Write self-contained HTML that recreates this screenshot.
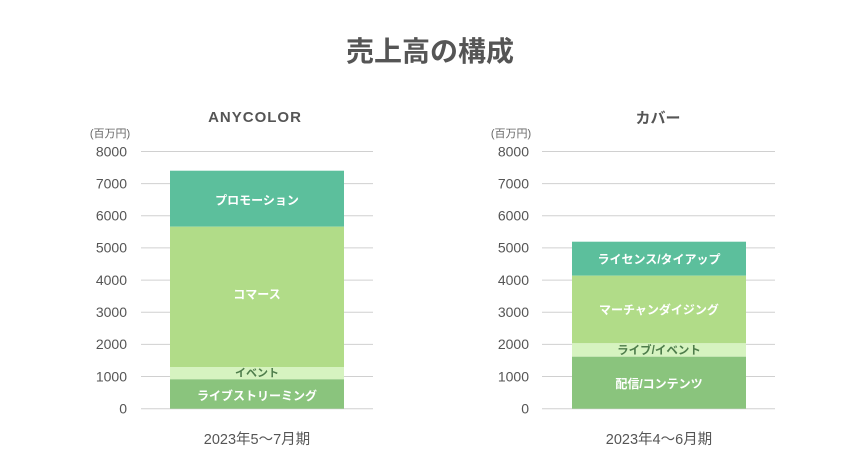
<!DOCTYPE html>
<html><head><meta charset="utf-8"><style>
html,body{margin:0;padding:0;background:#fff;}
svg{display:block;}
text{font-family:"Liberation Sans","Noto Sans CJK JP",sans-serif;}
</style></head><body>
<svg width="860" height="473" viewBox="0 0 860 473" xmlns="http://www.w3.org/2000/svg">
<rect width="860" height="473" fill="#fff"/>
<text x="430" y="61" text-anchor="middle" font-size="28" font-weight="bold" fill="#555">売上高の構成</text>

<!-- Left chart -->
<text x="255" y="122" text-anchor="middle" font-size="15" font-weight="bold" fill="#555" letter-spacing="1">ANYCOLOR</text>
<text x="110" y="137" text-anchor="middle" font-size="11" fill="#666">(百万円)</text>
<g stroke="#d0d0d0" stroke-width="1">
<line x1="141" x2="373" y1="151.5" y2="151.5"/>
<line x1="141" x2="373" y1="183.6" y2="183.6"/>
<line x1="141" x2="373" y1="215.8" y2="215.8"/>
<line x1="141" x2="373" y1="247.9" y2="247.9"/>
<line x1="141" x2="373" y1="280.1" y2="280.1"/>
<line x1="141" x2="373" y1="312.2" y2="312.2"/>
<line x1="141" x2="373" y1="344.4" y2="344.4"/>
<line x1="141" x2="373" y1="376.5" y2="376.5"/>
<line x1="141" x2="373" y1="408.7" y2="408.7"/>
</g>
<g font-size="14" fill="#555" text-anchor="end">
<text x="127" y="156.5">8000</text>
<text x="127" y="188.5">7000</text>
<text x="127" y="220.5">6000</text>
<text x="127" y="252.5">5000</text>
<text x="127" y="285">4000</text>
<text x="127" y="317">3000</text>
<text x="127" y="349">2000</text>
<text x="127" y="381.5">1000</text>
<text x="127" y="413.5">0</text>
</g>
<rect x="170" y="170.7" width="174" height="56" fill="#5cbf9c"/>
<rect x="170" y="226.7" width="174" height="140.3" fill="#b1dc88"/>
<rect x="170" y="367" width="174" height="12.3" fill="#d6f3c0"/>
<rect x="170" y="379.3" width="174" height="29.4" fill="#8ac47d"/>
<g font-size="12" font-weight="bold" fill="#fff" text-anchor="middle">
<text x="257" y="204.5">プロモーション</text>
<text x="257" y="298.5">コマース</text>
<text x="257" y="376.5" font-size="11" fill="#4e7d4b">イベント</text>
<text x="257" y="400">ライブストリーミング</text>
</g>
<text x="257" y="444" text-anchor="middle" font-size="14.5" fill="#555">2023年5〜7月期</text>

<!-- Right chart -->
<text x="658" y="123" text-anchor="middle" font-size="15" font-weight="bold" fill="#555">カバー</text>
<text x="511" y="137" text-anchor="middle" font-size="11" fill="#666">(百万円)</text>
<g stroke="#d0d0d0" stroke-width="1">
<line x1="542" x2="775" y1="151.5" y2="151.5"/>
<line x1="542" x2="775" y1="183.6" y2="183.6"/>
<line x1="542" x2="775" y1="215.8" y2="215.8"/>
<line x1="542" x2="775" y1="247.9" y2="247.9"/>
<line x1="542" x2="775" y1="280.1" y2="280.1"/>
<line x1="542" x2="775" y1="312.2" y2="312.2"/>
<line x1="542" x2="775" y1="344.4" y2="344.4"/>
<line x1="542" x2="775" y1="376.5" y2="376.5"/>
<line x1="542" x2="775" y1="408.7" y2="408.7"/>
</g>
<g font-size="14" fill="#555" text-anchor="end">
<text x="529" y="156.5">8000</text>
<text x="529" y="188.5">7000</text>
<text x="529" y="220.5">6000</text>
<text x="529" y="252.5">5000</text>
<text x="529" y="285">4000</text>
<text x="529" y="317">3000</text>
<text x="529" y="349">2000</text>
<text x="529" y="381.5">1000</text>
<text x="529" y="413.5">0</text>
</g>
<rect x="572" y="241.7" width="174" height="34" fill="#5cbf9c"/>
<rect x="572" y="275.7" width="174" height="67.6" fill="#b1dc88"/>
<rect x="572" y="343.3" width="174" height="13.4" fill="#d6f3c0"/>
<rect x="572" y="356.7" width="174" height="52" fill="#8ac47d"/>
<g font-size="12" font-weight="bold" fill="#fff" text-anchor="middle">
<text x="659" y="263.5">ライセンス/タイアップ</text>
<text x="659" y="314">マーチャンダイジング</text>
<text x="659" y="354" font-size="11.5" fill="#4e7d4b">ライブ/イベント</text>
<text x="659" y="388">配信/コンテンツ</text>
</g>
<text x="659" y="444" text-anchor="middle" font-size="14.5" fill="#555">2023年4〜6月期</text>
</svg>
</body></html>
